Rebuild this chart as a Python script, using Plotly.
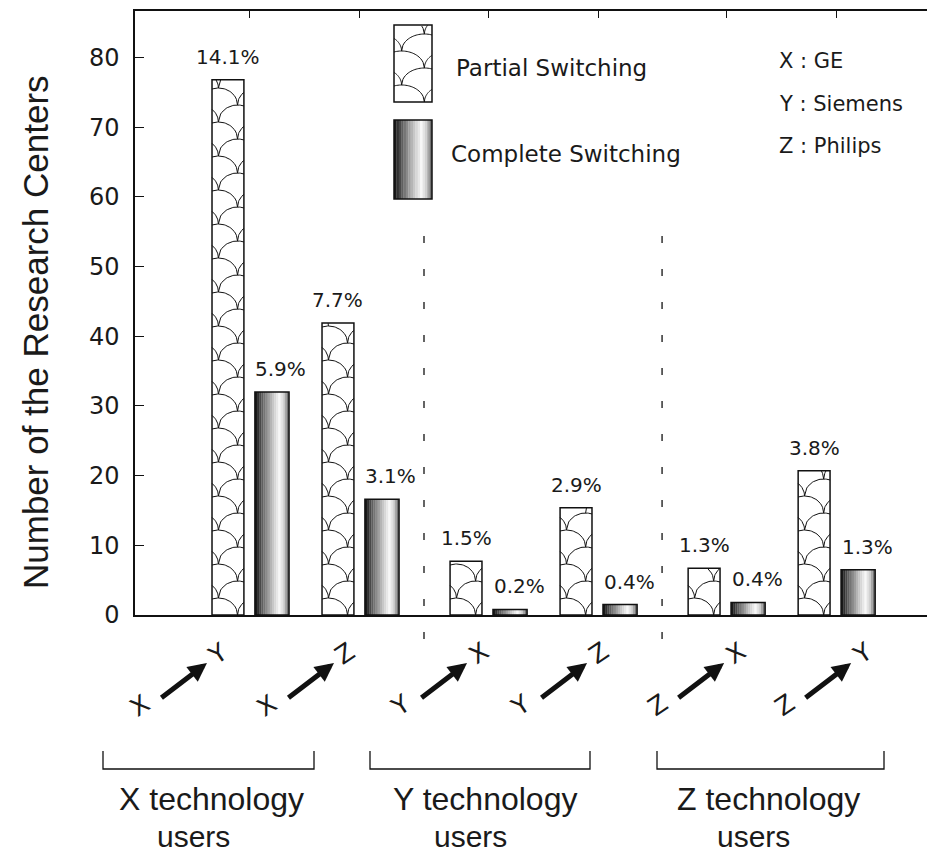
import numpy as np
import plotly.graph_objects as go

# ---------------- data ----------------
src_tech = ["X", "X", "Y", "Y", "Z", "Z"]
dst_tech = ["Y", "Z", "X", "Z", "X", "Y"]
groups = [0, 0, 1, 1, 2, 2]
partial = [76.8, 41.9, 7.7, 15.4, 6.7, 20.7]
complete = [32.0, 16.6, 0.8, 1.5, 1.8, 6.5]
partial_pct = ["14.1%", "7.7%", "1.5%", "2.9%", "1.3%", "3.8%"]
complete_pct = ["5.9%", "3.1%", "0.2%", "0.4%", "0.4%", "1.3%"]
group_names = ["X technology", "Y technology", "Z technology"]
brand_notes = ["X : GE", "Y : Siemens", "Z : Philips"]
series_names = ["Partial Switching", "Complete Switching"]
y_ticks = [0, 10, 20, 30, 40, 50, 60, 70, 80]

# ---------------- layout constants ----------------
PAGE_OFF = 8  # browser body margin
W_FIG, H_FIG = 935 - PAGE_OFF, 854 - PAGE_OFF
L, R, T, B = 135, 935, 11, 615  # plot area in screenshot pixels
XR = [-1.045, 6.227]
YR = [0, 86.66]
GROUP_GAP = 0.164
P_OFF, P_W = -0.345, 0.29
C_OFF, C_W = 0.045, 0.31
ROW_H = 17 / ((B - T) / (YR[1] - YR[0]))  # scale-pattern row height in data units
INK = "#111111"
TXT = "#1a1a1a"
FONT_W = "DejaVu Sans"
FONT_N = "Liberation Sans"

pos = [i + GROUP_GAP * g for i, g in enumerate(groups)]


def px2x(px):
    return (px - L) / (R - L)


def py2y(py):
    return (B - py) / (B - T)


def data2px(x):
    return L + (x - XR[0]) / (XR[1] - XR[0]) * (R - L)


def shade(t):
    stops = [(0.0, 0.05), (0.2, 0.35), (0.5, 0.75), (0.72, 0.97), (0.86, 0.8), (1.0, 0.35)]
    g = np.interp(t, [s[0] for s in stops], [s[1] for s in stops])
    v = int(round(g * 255))
    return f"rgb({v},{v},{v})"


def scale_polylines(x0, x1, top, H, n=24):
    Wd = x1 - x0
    S = 1.2 * Wd
    Rr = S / 2
    lines = []
    k = 0
    while k * H < top:
        yb = k * H
        c0 = x0 + (0.2 * Wd if k % 2 == 0 else 0.8 * Wd)
        for m in range(-2, 3):
            c = c0 + m * S
            a, b = max(c - Rr, x0), min(c + Rr, x1)
            if a >= b:
                continue
            xs = np.linspace(a, b, n)
            ys = yb + H * np.sqrt(np.clip(1 - ((xs - c) / Rr) ** 2, 0, None))
            seg = []
            for xx, yy in zip(xs, ys):
                if yy <= top:
                    seg.append((xx, yy))
                else:
                    if len(seg) > 1:
                        lines.append(seg)
                    seg = []
            if len(seg) > 1:
                lines.append(seg)
        k += 1
    return lines


fig = go.Figure()

# partial switching bars
fig.add_trace(go.Bar(x=pos, y=partial, offset=P_OFF, width=P_W, name=series_names[0],
                     marker=dict(color="white", line=dict(color=INK, width=1.5)),
                     showlegend=False, hoverinfo="y"))

# fish-scale texture on partial bars
sx, sy = [], []
for p, v in zip(pos, partial):
    for seg in scale_polylines(p + P_OFF, p + P_OFF + P_W, v, ROW_H):
        sx += [q[0] for q in seg] + [None]
        sy += [q[1] for q in seg] + [None]
fig.add_trace(go.Scatter(x=sx, y=sy, mode="lines", line=dict(color=INK, width=1),
                         hoverinfo="skip", showlegend=False))

# complete switching bars: cylinder shading by stripes
N = 16
for k in range(N):
    fig.add_trace(go.Bar(x=pos, y=complete, offset=C_OFF + k * C_W / N, width=C_W / N * 1.1,
                         marker=dict(color=shade((k + 0.5) / N), line=dict(width=0)),
                         showlegend=False, hoverinfo="skip"))
fig.add_trace(go.Bar(x=pos, y=complete, offset=C_OFF, width=C_W, name=series_names[1],
                     marker=dict(color="rgba(0,0,0,0)", line=dict(color=INK, width=1.5)),
                     showlegend=False, hoverinfo="y"))

# invisible trace to carry the top axis
fig.add_trace(go.Scatter(x=[pos[0]], y=[0], xaxis="x2", mode="markers",
                         marker=dict(opacity=0), hoverinfo="skip", showlegend=False))

ann = []
# percent labels
for p, v, t in zip(pos, partial, partial_pct):
    ann.append(dict(x=p + P_OFF + P_W / 2, y=v, xref="x", yref="y", text=t, showarrow=False,
                    xanchor="center", yanchor="middle", yshift=23,
                    font=dict(family=FONT_W, size=20, color=TXT)))
for p, v, t in zip(pos, complete, complete_pct):
    ann.append(dict(x=p + C_OFF + C_W / 2, y=v, xref="x", yref="y", text=t, showarrow=False,
                    xanchor="center", yanchor="middle", yshift=23, xshift=9,
                    font=dict(family=FONT_W, size=20, color=TXT)))

# rotated category labels "A -> B"
LABEL_DX = [-72, -55, -50, -40, -31, -14]
LABEL_CY = 680
for p, a, b, dx in zip(pos, src_tech, dst_tech, LABEL_DX):
    cx = data2px(p) + dx
    cy = LABEL_CY
    ann.append(dict(x=px2x(cx - 38), y=py2y(cy + 25), xref="paper", yref="paper", text=a,
                    showarrow=False, textangle=-34, xanchor="center", yanchor="middle",
                    font=dict(family=FONT_W, size=25, color=TXT)))
    ann.append(dict(x=px2x(cx + 40), y=py2y(cy - 27), xref="paper", yref="paper", text=b,
                    showarrow=False, textangle=-34, xanchor="center", yanchor="middle",
                    font=dict(family=FONT_W, size=25, color=TXT)))
    hx, hy = cx + 29, cy - 17
    tx, ty = cx - 18, cy + 19
    ann.append(dict(x=px2x(hx), y=py2y(hy), xref="paper", yref="paper", text="",
                    showarrow=True, ax=tx - hx, ay=ty - hy, arrowhead=2, arrowsize=0.75,
                    arrowwidth=5, arrowcolor=INK, standoff=0, startstandoff=0))

# group labels
GROUP_LINE1 = [(211, 799), (485, 799), (768, 799)]
GROUP_LINE2 = [(193, 836), (470, 836), (753, 836)]
for name, (x1, y1), (x2, y2) in zip(group_names, GROUP_LINE1, GROUP_LINE2):
    ann.append(dict(x=px2x(x1), y=py2y(y1), xref="paper", yref="paper", text=name,
                    showarrow=False, xanchor="center", yanchor="middle", borderpad=0,
                    font=dict(family=FONT_N, size=32, color=TXT)))
    ann.append(dict(x=px2x(x2), y=py2y(y2), xref="paper", yref="paper", text="users",
                    showarrow=False, xanchor="center", yanchor="middle", borderpad=0,
                    font=dict(family=FONT_N, size=30, color=TXT)))

# legend text
ann.append(dict(x=px2x(454), y=py2y(68), xref="paper", yref="paper", text=series_names[0],
                showarrow=False, xanchor="left", yanchor="middle",
                font=dict(family=FONT_W, size=23, color=TXT)))
ann.append(dict(x=px2x(449), y=py2y(154), xref="paper", yref="paper", text=series_names[1],
                showarrow=False, xanchor="left", yanchor="middle",
                font=dict(family=FONT_W, size=23, color=TXT)))
# manufacturer notes
for t, yy in zip(brand_notes, [61, 104, 146]):
    ann.append(dict(x=px2x(777), y=py2y(yy), xref="paper", yref="paper", text=t,
                    showarrow=False, xanchor="left", yanchor="middle",
                    font=dict(family=FONT_W, size=21, color=TXT)))
# y-axis title
ann.append(dict(x=px2x(35), y=py2y(332), xref="paper", yref="paper",
                text="Number of the Research Centers", textangle=-90, showarrow=False,
                xanchor="center", yanchor="middle",
                font=dict(family=FONT_N, size=35, color=TXT)))

shapes = []
# dashed separators between technology groups
for a, b in [(1, 2), (3, 4)]:
    xp = px2x(data2px((pos[a] + pos[b]) / 2))
    shapes.append(dict(type="line", xref="paper", yref="paper", x0=xp, x1=xp,
                       y0=py2y(236), y1=py2y(656),
                       line=dict(color=INK, width=1.3, dash="7px,26px")))
# brackets under the category labels
BRACKETS = [(103, 314), (370, 590), (657, 884)]
for a, b in BRACKETS:
    ya, yb_ = py2y(751), py2y(769)
    shapes.append(dict(type="path", xref="paper", yref="paper",
                       path=f"M {px2x(a)},{ya} L {px2x(a)},{yb_} L {px2x(b)},{yb_} L {px2x(b)},{ya}",
                       line=dict(color=INK, width=1.3)))

# legend swatch: partial
LX0, LX1 = 394, 432
shapes.append(dict(type="rect", xref="paper", yref="paper", x0=px2x(LX0), x1=px2x(LX1),
                   y0=py2y(102), y1=py2y(25), fillcolor="white", line=dict(color=INK, width=1.5)))
parts = []
for seg in scale_polylines(LX0, LX1, 77, 17):
    pts = [f"{px2x(x):.5f},{py2y(102 - y):.5f}" for x, y in seg]
    parts.append("M " + " L ".join(pts))
shapes.append(dict(type="path", xref="paper", yref="paper", path=" ".join(parts),
                   line=dict(color=INK, width=1)))
# legend swatch: complete (shaded)
for k in range(N):
    xa = LX0 + (LX1 - LX0) * k / N
    xb = LX0 + (LX1 - LX0) * (k + 1.1) / N
    shapes.append(dict(type="rect", xref="paper", yref="paper", x0=px2x(xa), x1=px2x(min(xb, LX1)),
                       y0=py2y(199), y1=py2y(120), fillcolor=shade((k + 0.5) / N), line=dict(width=0)))
shapes.append(dict(type="rect", xref="paper", yref="paper", x0=px2x(LX0), x1=px2x(LX1),
                   y0=py2y(199), y1=py2y(120), fillcolor="rgba(0,0,0,0)", line=dict(color=INK, width=1.5)))

fig.update_layout(
    width=W_FIG, height=H_FIG,
    margin=dict(l=L - PAGE_OFF, r=935 - R, t=T - PAGE_OFF, b=854 - B, pad=0),
    paper_bgcolor="white", plot_bgcolor="white",
    barmode="overlay", showlegend=False,
    xaxis=dict(range=XR, showline=True, linecolor=INK, linewidth=1.5, ticks="",
               showticklabels=False, showgrid=False, zeroline=False, fixedrange=True),
    xaxis2=dict(range=XR, overlaying="x", side="top", showline=True, linecolor=INK,
                linewidth=1.5, ticks="inside", ticklen=7, tickwidth=1.3, tickcolor=INK,
                tickvals=pos, showticklabels=False, showgrid=False, zeroline=False, matches="x"),
    yaxis=dict(range=YR, showline=True, linecolor=INK, linewidth=1.5, ticks="inside",
               ticklen=9, tickwidth=1.3, tickcolor=INK, tickvals=y_ticks,
               tickfont=dict(family=FONT_W, size=24, color=TXT), ticklabelstandoff=9,
               showgrid=False, zeroline=False),
    annotations=ann,
    shapes=shapes,
)

fig.write_html("out.html")
